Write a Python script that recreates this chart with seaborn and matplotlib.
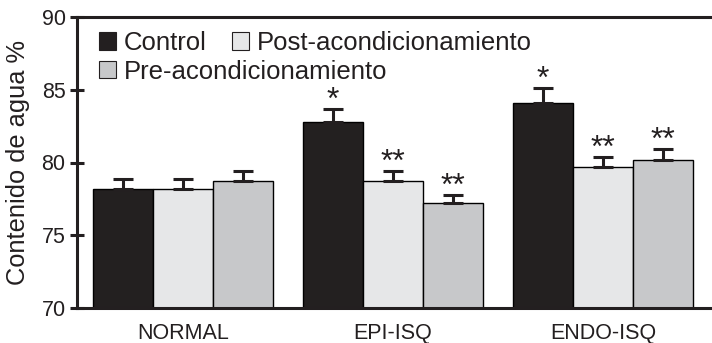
## Plots water content (%) per zone for the three conditions, as grouped bars with SEM caps.

import numpy as np
import pandas as pd
import seaborn as sns
import matplotlib.pyplot as plt
from matplotlib.patches import Patch

# Data
GROUPS = ["NORMAL", "EPI-ISQ", "ENDO-ISQ"]
CONDITIONS = ["Control", "Post-acondicionamiento", "Pre-acondicionamiento"]
CONTROL = [78.2, 82.8, 84.1]
POST = [78.2, 78.7, 79.7]
PRE = [78.7, 77.2, 80.2]
CONTROL_ERR = [0.7, 0.9, 1.0]
POST_ERR = [0.7, 0.7, 0.7]
PRE_ERR = [0.7, 0.6, 0.7]
CONTROL_SIG = ["", "*", "*"]
POST_SIG = ["", "**", "**"]
PRE_SIG = ["", "**", "**"]
Y_TICKS = [70, 75, 80, 85, 90]

COLORS = ["#231f20", "#e6e7e8", "#c7c8ca"]
INK = "#231f20"

def water_plot(out_file="out.png"):
	""" Draws the grouped bar chart and saves it. """
	sns.set_style("ticks")
	plt.rcParams['font.family'] = ['Liberation Sans', 'DejaVu Sans']
	# Builds the long table seaborn wants
	values = [CONTROL, POST, PRE]
	errs = [CONTROL_ERR, POST_ERR, PRE_ERR]
	sigs = [CONTROL_SIG, POST_SIG, PRE_SIG]
	rows = []
	for cond, vals in zip(CONDITIONS, values):
		for grp, v in zip(GROUPS, vals):
			rows.append({"grupo": grp, "condicion": cond, "agua": v})
	df = pd.DataFrame(rows)
	# Initializes figure
	fig = plt.figure(figsize=(7.12, 3.43), dpi=100)
	ax = fig.add_axes([77 / 712, 35 / 343, 635 / 712, 291 / 343])
	sns.barplot(data=df, x="grupo", y="agua", hue="condicion", order=GROUPS, hue_order=CONDITIONS,
		palette=COLORS, width=0.857, edgecolor="black", linewidth=1.0, errorbar=None, legend=False, ax=ax)
	# Upper error caps and significance marks
	for container, err, sig in zip(ax.containers, errs, sigs):
		xs = [p.get_x() + p.get_width() / 2 for p in container.patches]
		hs = [p.get_height() for p in container.patches]
		ax.errorbar(xs, hs, yerr=[np.zeros(len(err)), err], fmt="none", ecolor=INK,
			elinewidth=2.2, capsize=7.2, capthick=2.2, zorder=1)
		for x, h, e, s in zip(xs, hs, err, sig):
			if s:
				ax.annotate(s, (x, h + e), xytext=(0, 0), textcoords="offset points",
					ha="center", va="baseline", fontsize=23, color=INK)
	# Axes styling
	ax.set_ylim(70, 90)
	ax.set_xlim(-0.505, 2.52)
	ax.set_yticks(Y_TICKS)
	ax.set_yticklabels([str(t) for t in Y_TICKS], fontsize=15.5, color=INK)
	ax.tick_params(axis="y", direction="inout", length=9.5, width=2.2, pad=3.5, color=INK)
	ax.tick_params(axis="x", length=0, pad=11, labelsize=15.5, labelcolor=INK)
	ax.set_xlabel("")
	ax.set_ylabel("Contenido de agua %", fontsize=18.3, color=INK, labelpad=8)
	for side in ["left", "bottom", "top"]:
		ax.spines[side].set_linewidth(2.2)
		ax.spines[side].set_color(INK)
	ax.spines["right"].set_visible(False)
	# Legend in two rows: Control + Post on top, Pre below
	handles = [Patch(facecolor=c, edgecolor=INK, linewidth=0.8) for c in COLORS]
	leg_opts = dict(frameon=False, loc="upper left", borderpad=0, borderaxespad=0,
		handlelength=0.65, handleheight=0.65, handletextpad=0.3, columnspacing=1.0,
		fontsize=18.5, labelcolor=INK)
	leg1 = ax.legend(handles[:2], CONDITIONS[:2], ncol=2, bbox_to_anchor=(22 / 635, 0.952), **leg_opts)
	ax.add_artist(leg1)
	ax.legend(handles[2:], CONDITIONS[2:], ncol=1, bbox_to_anchor=(22 / 635, 0.853), **leg_opts)
	fig.savefig(out_file, dpi=100)
	plt.close(fig)

def main():
	water_plot()
	return 0

if __name__ == "__main__":
	main()
